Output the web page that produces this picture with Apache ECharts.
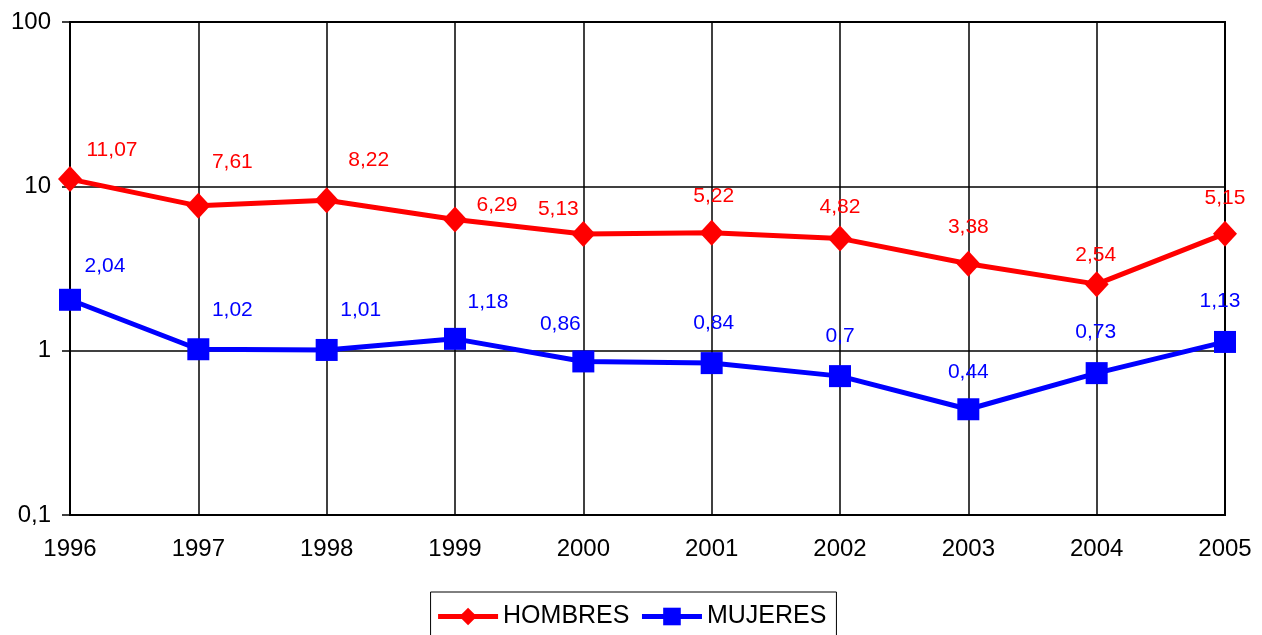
<!DOCTYPE html>
<html>
<head>
<meta charset="utf-8">
<script src="https://cdn.jsdelivr.net/npm/echarts@6/dist/echarts.min.js"></script>
<style>
  html, body { margin: 0; padding: 0; background: #fff; }
  #chart { width: 1262px; height: 635px; }
</style>
</head>
<body>
<div id="chart"></div>
<script>
const years = ['1996', '1997', '1998', '1999', '2000', '2001', '2002', '2003', '2004', '2005'];
const hombres = [11.07, 7.61, 8.22, 6.29, 5.13, 5.22, 4.82, 3.38, 2.54, 5.15];
const mujeres = [2.04, 1.02, 1.01, 1.18, 0.86, 0.84, 0.7, 0.44, 0.73, 1.13];

// label nudges (excel placed them by hand)
const hombresLabelShift = [[42, 0], [34, -15], [42, -12], [42, 14], [-25, 4], [2, -8], [0, -3], [0, -8], [-1, 0], [0, -7]];
const mujeresLabelShift = [[35, -7], [34, -13], [34, -13], [33, -10], [-23, -11], [2, -13], [0, -13], [0, -11], [-1, -14], [-5, -14]];

const fmt = v => String(v).replace('.', ',');
const font = 'Liberation Sans, Arial, sans-serif';

function withLabels(values, shifts) {
  return values.map((v, i) => ({
    value: v,
    label: { offset: shifts[i] }
  }));
}

const chart = echarts.init(document.getElementById('chart'));
chart.setOption({
  animation: false,
  textStyle: { fontFamily: font },
  grid: { left: 70, right: 37, top: 22, bottom: 120, show: true, borderColor: '#000', borderWidth: 2 },
  legend: {
    top: 592,
    left: 'center',
    itemWidth: 60,
    itemHeight: 22,
    itemGap: 10,
    padding: [12, 10, 14, 5],
    borderColor: '#000',
    borderWidth: 1,
    lineStyle: { width: 5 },
    textStyle: { fontSize: 25, color: '#000', fontFamily: font },
    data: ['HOMBRES', 'MUJERES']
  },
  xAxis: {
    type: 'category',
    boundaryGap: false,
    data: years,
    axisLine: { lineStyle: { color: '#000', width: 2 } },
    axisTick: { show: false },
    axisLabel: { color: '#000', fontSize: 24, margin: 22 },
    splitLine: { show: true, lineStyle: { color: '#000', width: 1.5 } }
  },
  yAxis: {
    type: 'log',
    logBase: 10,
    min: 0.1,
    max: 100,
    axisLine: { show: true, lineStyle: { color: '#000', width: 2 } },
    axisTick: { show: true, length: 8, lineStyle: { color: '#000', width: 1.5 } },
    axisLabel: { color: '#000', fontSize: 24, margin: 19, formatter: v => fmt(v) },
    splitLine: { show: true, lineStyle: { color: '#000', width: 1.5 } },
    minorTick: { show: false }
  },
  series: [
    {
      name: 'HOMBRES',
      type: 'line',
      data: withLabels(hombres, hombresLabelShift),
      color: '#ff0000',
      symbol: 'diamond',
      symbolSize: [24, 26],
      lineStyle: { width: 5, color: '#ff0000' },
      itemStyle: { color: '#ff0000' },
      label: {
        show: true,
        position: 'top',
        color: '#ff0000',
        fontSize: 21,
        formatter: p => fmt(p.value)
      }
    },
    {
      name: 'MUJERES',
      type: 'line',
      data: withLabels(mujeres, mujeresLabelShift),
      color: '#0000ff',
      symbol: 'rect',
      symbolSize: 22,
      lineStyle: { width: 5, color: '#0000ff' },
      itemStyle: { color: '#0000ff' },
      label: {
        show: true,
        position: 'top',
        color: '#0000ff',
        fontSize: 21,
        formatter: p => fmt(p.value)
      }
    }
  ]
});
</script>
</body>
</html>
